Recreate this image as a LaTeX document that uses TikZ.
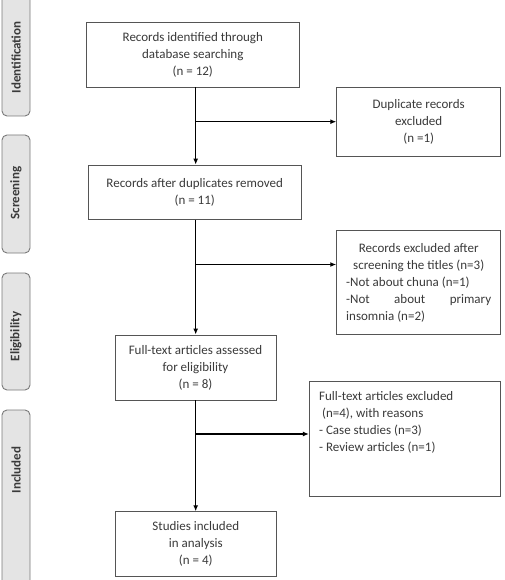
\documentclass[tikz,border=0pt]{standalone}
\usepackage{fontspec}
\setmainfont{Carlito}
\usetikzlibrary{arrows.meta}
\definecolor{txt}{HTML}{3A3A3A}
\definecolor{bord}{HTML}{555555}
\definecolor{stagefill}{HTML}{E4E4E4}
\definecolor{stagebord}{HTML}{7A7A7A}
\begin{document}
\begin{tikzpicture}[x=1pt,y=-1pt,
  box/.style={draw=bord, line width=0.9pt, text=txt, font=\fontsize{13}{17}\selectfont, align=center, inner sep=0pt},
  stage/.style={draw=stagebord, fill=stagefill, rounded corners=5pt, line width=0.9pt},
  stagetext/.style={text=txt, font=\fontsize{13}{16}\selectfont\bfseries, rotate=90},
  bodytext/.style={text=txt, font=\fontsize{13}{17}\selectfont, inner sep=0pt},
  arr/.style={line width=1.2pt, -{Latex[length=6pt,width=5pt]}},
  ln/.style={line width=1.2pt}]
\useasboundingbox (0,0) rectangle (504,580);
\clip (0,0) rectangle (504,580);
\fill[white] (0,0) rectangle (504,580);
% stages
\draw[stage] (2,-10) rectangle (30,116);
\node[stagetext] (s1) at (16,57.5) {Identification};
\draw[stage] (2,135) rectangle (30,253);
\node[stagetext] (s2) at (16,193) {Screening};
\draw[stage] (2,273) rectangle (30,390);
\node[stagetext] (s3) at (16,336.5) {Eligibility};
\draw[stage] (2,410) rectangle (30,600);
\node[stagetext] (s4) at (16,470) {Included};
% main boxes
\node[box, minimum width=212.3, minimum height=65] (b1) at (192.8,54.5)
  {Records identified through\\database searching\\(n = 12)};
\node[box, minimum width=164, minimum height=68.7] (dup) at (418.7,121.7)
  {Duplicate records\\excluded\\(n =1)};
\node[box, minimum width=212.7, minimum height=54.3] (b2) at (194.7,192.2)
  {Records after duplicates removed\\(n = 11)};
\node[box, minimum width=164, minimum height=103.6] (ex1) at (418.7,282.5)
  {\parbox{145pt}{\centering Records excluded after\\screening the titles (n=3)\par
   \raggedright -Not about chuna (n=1)\\-Not\hfill about\hfill primary\\insomnia (n=2)}};
\node[box, minimum width=161, minimum height=65] (b3) at (195.5,367.5)
  {Full-text articles assessed\\for eligibility\\(n = 8)};
\node[box, minimum width=190.7, minimum height=114.3] (ex2) at (404.7,438.8) {};
\node[bodytext, anchor=north west, align=left] (ex2t) at ([xshift=10pt,yshift=-10pt]ex2.north west)
  {Full-text articles excluded\\\hspace*{3pt}(n=4), with reasons\\- Case studies (n=3)\\- Review articles (n=1)};
\node[box, minimum width=161.7, minimum height=65] (b4) at (195.8,544.2)
  {Studies included\\in analysis\\(n = 4)};
% connectors
\coordinate (j1) at (195.7,121.7);
\coordinate (j2) at (195.7,264.5);
\coordinate (j3) at (195.7,434);
\draw[arr] (b1.south -| j1) -- (b2.north -| j1);
\draw[arr] (j1) -- (dup.west);
\draw[arr] (b2.south -| j2) -- (b3.north -| j2);
\draw[arr] (j2) -- (ex1.west |- j2);
\draw[arr] (b3.south -| j3) -- (b4.north -| j3);
\draw[arr] (j3) -- (ex2.west |- j3);
\end{tikzpicture}
\end{document}
